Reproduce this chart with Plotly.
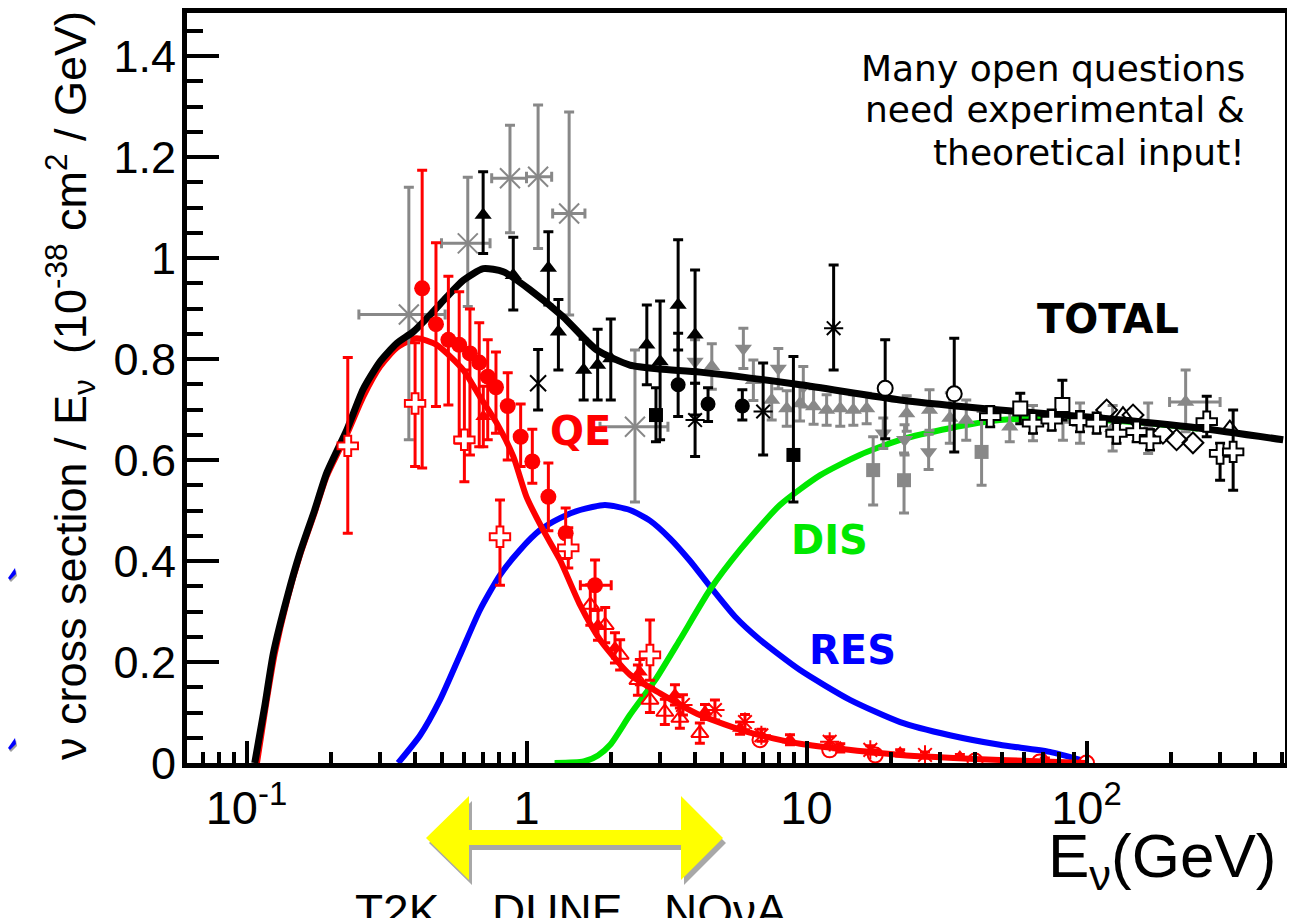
import plotly.graph_objects as go

# ---------------- curves ----------------
tot_x = [0.107, 0.116, 0.1247, 0.14, 0.155, 0.175, 0.1934, 0.228, 0.261, 0.30, 0.344, 0.394, 0.452, 0.519,
         0.595, 0.701, 0.826, 1.03, 1.35, 1.78, 2.34, 3.0, 4.17, 9.5, 21.6, 49, 112, 254, 504]
tot_y = [0.0, 0.11, 0.217, 0.33, 0.415, 0.50, 0.574, 0.659, 0.74, 0.795, 0.831, 0.854, 0.887, 0.923,
         0.956, 0.979, 0.973, 0.937, 0.884, 0.818, 0.788, 0.780, 0.774, 0.749, 0.719, 0.699, 0.683, 0.663, 0.640]

qe_x = [0.109, 0.117, 0.126, 0.14, 0.155, 0.175, 0.1934, 0.228, 0.261, 0.30, 0.344, 0.405, 0.478, 0.595,
        0.682, 0.783, 0.897, 1.0, 1.15, 1.317, 1.553, 1.83, 2.34, 3.0, 4.16, 6.28, 9.48, 21.6, 49, 100]
qe_y = [0.0, 0.11, 0.215, 0.325, 0.41, 0.495, 0.568, 0.65, 0.725, 0.785, 0.822, 0.841, 0.828, 0.778,
        0.725, 0.673, 0.607, 0.527, 0.46, 0.402, 0.313, 0.244, 0.175, 0.138, 0.095, 0.06, 0.038, 0.016, 0.006, 0.0]

res_x = [0.348, 0.417, 0.491, 0.579, 0.682, 0.804, 0.948, 1.117, 1.317, 1.553, 1.906, 2.34, 2.76, 3.25,
         3.84, 4.52, 5.55, 6.82, 9.48, 14.3, 21.6, 32.5, 49, 74, 95]
res_y = [0.0, 0.055, 0.125, 0.214, 0.303, 0.372, 0.422, 0.461, 0.485, 0.501, 0.511, 0.501, 0.48, 0.445,
         0.40, 0.35, 0.29, 0.244, 0.184, 0.125, 0.081, 0.055, 0.036, 0.022, 0.006]

dis_x = [1.26, 1.6, 1.8, 1.99, 2.34, 2.88, 3.53, 4.52, 5.79, 8.04, 11.2, 15.5, 21.6, 32.5, 49, 80, 150, 250]
dis_y = [0.0, 0.003, 0.015, 0.036, 0.095, 0.164, 0.244, 0.343, 0.422, 0.511, 0.570, 0.610, 0.640, 0.663,
         0.679, 0.683, 0.675, 0.662]

# ---------------- QE data (red) ----------------
qec_x = [0.424, 0.475, 0.526, 0.575, 0.628, 0.678, 0.727, 0.778, 0.857, 0.953, 1.049, 1.197, 1.38, 1.757]
qec_y = [0.940, 0.869, 0.838, 0.828, 0.811, 0.793, 0.765, 0.744, 0.707, 0.646, 0.597, 0.527, 0.455, 0.352]
qec_up = [0.234, 0.161, 0.126, 0.105, 0.088, 0.079, 0.073, 0.070, 0.066, 0.065, 0.064, 0.067, 0.05, 0.05]
qec_dn = [0.356, 0.163, 0.129, 0.195, 0.201, 0.167, 0.125, 0.091, 0.107, 0.059, 0.043, 0.067, 0.05, 0.05]
qec_xp = [0, 0, 0, 0, 0, 0, 0, 0, 0, 0, 0, 0, 0, 0.25]
qec_xm = [0, 0, 0, 0, 0, 0, 0, 0, 0, 0, 0, 0, 0, 0.2]

qeo_x = [0.230, 0.40, 0.60, 0.804, 1.41, 2.76]
qeo_y = [0.628, 0.712, 0.640, 0.448, 0.426, 0.214]
qeo_up = [0.175, 0.12, 0.138, 0.073, 0.04, 0.069]
qeo_dn = [0.173, 0.125, 0.083, 0.096, 0.04, 0.05]

qet_x = [0.701, 1.80, 2.07, 2.54, 3.39, 4.34, 5.79, 8.73, 13.2, 21.6, 35.3, 71]
qet_y = [0.686, 0.273, 0.228, 0.180, 0.135, 0.101, 0.069, 0.046, 0.030, 0.020, 0.012, 0.006]
qet_e = [0.06, 0.03, 0.03, 0.025, 0.02, 0.015, 0.012, 0.01, 0.008, 0.006, 0.005, 0.004]

qeot_x = [1.69, 1.91, 2.16, 2.5, 2.76, 3.12, 3.53, 4.16]
qeot_y = [0.313, 0.273, 0.214, 0.164, 0.125, 0.101, 0.089, 0.059]
qeot_e = [0.04, 0.035, 0.03, 0.03, 0.025, 0.025, 0.02, 0.02]

qes_x = [3.62, 4.71, 6.03, 6.9, 12.1, 16.9, 26.5]
qes_y = [0.115, 0.105, 0.081, 0.055, 0.042, 0.026, 0.016]
qes_e = [0.02, 0.02, 0.015, 0.012, 0.01, 0.008, 0.006]

qeoc_x = [6.82, 12.1, 17.6, 40, 68, 100]
qeoc_y = [0.046, 0.026, 0.016, 0.004, 0.002, 0.0]

# ---------------- TOTAL data ----------------
bt_x = [0.70, 0.897, 1.197, 1.30, 1.60, 1.795, 2.0, 2.69, 3.0, 3.48, 4.0]
bt_y = [1.085, 0.966, 0.98, 0.854, 0.778, 0.788, 0.801, 0.828, 0.795, 0.907, 0.848]
bt_up = [0.086, 0.075, 0.072, 0.064, 0.061, 0.071, 0.078, 0.079, 0.12, 0.129, 0.128]
bt_dn = [0.076, 0.069, 0.073, 0.076, 0.059, 0.069, 0.082, 0.079, 0.155, 0.089, 0.159]

bx_x = [1.10]
bx_y = [0.752]
bx_up = [0.067]
bx_dn = [0.053]

bs_x = [4.0, 7.0, 12.5]
bs_y = [0.679, 0.696, 0.861]
bs_up = [0.073, 0.096, 0.125]
bs_dn = [0.072, 0.086, 0.083]

bc_x = [3.48, 4.45, 5.9]
bc_y = [0.749, 0.711, 0.707]
bc_up = [0.102, 0.032, 0.032]
bc_dn = [0.063, 0.035, 0.028]

bq_x = [2.9, 8.98]
bq_y = [0.689, 0.610]
bq_up = [0.054, 0.195]
bq_dn = [0.053, 0.093]

boc_x = [19.1, 33.7]
boc_y = [0.742, 0.731]
boc_up = [0.096, 0.11]
boc_dn = [0.10, 0.115]

boq_x = [58, 82]
boq_y = [0.702, 0.709]
boq_up = [0.03, 0.049]
boq_dn = [0.03, 0.03]

bcr_x = [45.3, 64.4, 75.1, 94.8, 108.7, 128, 151, 168.6, 268.8, 300, 334]
bcr_y = [0.686, 0.673, 0.679, 0.676, 0.673, 0.653, 0.656, 0.640, 0.676, 0.613, 0.616]
bcr_up = [0.02, 0.02, 0.02, 0.02, 0.02, 0.02, 0.02, 0.02, 0.05, 0.02, 0.083]
bcr_dn = [0.02, 0.02, 0.02, 0.02, 0.02, 0.02, 0.02, 0.02, 0.03, 0.053, 0.076]

bd_x = [118, 146.6, 187.5, 209.7, 240]
bd_y = [0.699, 0.689, 0.653, 0.640, 0.634]

bot_x = [135, 325]
bot_y = [0.69, 0.663]

gx_x = [0.380, 0.617, 0.873, 1.10, 1.42, 2.44]
gx_y = [0.888, 1.029, 1.158, 1.161, 1.088, 0.666]
gx_xlo = [0.252, 0.497, 0.751, 1.0, 1.24, 1.83]
gx_xhi = [0.512, 0.741, 1.0, 1.23, 1.617, 3.2]
gx_ylo = [0.640, 0.904, 1.05, 1.019, 0.887, 0.517]
gx_yhi = [1.140, 1.16, 1.263, 1.303, 1.289, 0.818]

gt_x = [4.59, 6.46, 7.51, 8.5, 9.48, 10.6, 11.8, 13.2, 14.7, 16.4, 22.8, 27.5, 32.5, 37.2, 53.2, 64.4,
        82.4, 94.8, 124, 166]
gt_y = [0.785, 0.758, 0.719, 0.702, 0.712, 0.706, 0.699, 0.702, 0.699, 0.702, 0.692, 0.699, 0.683, 0.679,
        0.666, 0.673, 0.679, 0.673, 0.663, 0.663]
gt_e = [0.045, 0.04, 0.04, 0.035, 0.035, 0.035, 0.03, 0.035, 0.03, 0.03, 0.035, 0.04, 0.05, 0.04, 0.03,
        0.035, 0.04, 0.04, 0.045, 0.05]

gtb_x = [226]
gtb_y = [0.715]
gtb_xlo = [198]
gtb_xhi = [300]
gtb_ylo = [0.656]
gtb_yhi = [0.778]

gd_x = [4.0, 5.95, 7.93, 9.74, 18.8, 22.4, 27.3]
gd_y = [0.795, 0.821, 0.781, 0.745, 0.653, 0.640, 0.616]
gd_e = [0.043, 0.04, 0.04, 0.04, 0.03, 0.03, 0.035]

gq_x = [17.3, 22.3, 42.2]
gq_y = [0.58, 0.56, 0.616]
gq_up = [0.066, 0.054, 0.08]
gq_dn = [0.069, 0.065, 0.066]

# tick labels
x_tickvals = [0.1, 1, 10, 100]
x_ticktext = ["10<sup>-1</sup>", "1", "10", "10<sup>2</sup>"]
y_tickvals = [0, 0.2, 0.4, 0.6, 0.8, 1.0, 1.2, 1.4]
y_ticktext = ["0", "0.2", "0.4", "0.6", "0.8", "1", "1.2", "1.4"]

# ---------------- figure ----------------
# the page body has an 8px margin: the figure starts at page (8, 8)
OFF = 8
W, H = 1295 - OFF, 918 - OFF
PL, PR, PT, PB = 187, 1285, 13, 763          # plot area in page pixels
ML, MR, MT, MB = PL - OFF, (OFF + W) - PR, PT - OFF, (OFF + H) - PB
PW, PH = PR - PL, PB - PT


def px(x):
    return (x - PL) / PW


def py(y):
    return (PB - y) / PH


fig = go.Figure()

RED, BLUE, GREEN, GRAY = "#ff0000", "#0000ff", "#00e800", "#888888"


def curve(x, y, color, width):
    fig.add_trace(go.Scatter(x=x, y=y, mode="lines", line=dict(color=color, width=width, shape="spline", smoothing=0.6),
                             hoverinfo="skip", showlegend=False))


def pts(x, y, symbol, color, size, ecolor, up=None, dn=None, lcolor=None, lw=0, xp=None, xm=None):
    ey = None
    if up is not None:
        ey = dict(type="data", symmetric=False, array=up, arrayminus=dn if dn is not None else up,
                  color=ecolor, thickness=3, width=5)
    ex = None
    if xp is not None:
        ex = dict(type="data", symmetric=False, array=xp, arrayminus=xm, color=ecolor, thickness=3, width=5)
    fig.add_trace(go.Scatter(x=x, y=y, mode="markers", error_y=ey, error_x=ex,
                             marker=dict(symbol=symbol, color=color, size=size,
                                         line=dict(color=lcolor or color, width=lw)),
                             hoverinfo="skip", showlegend=False))


curve(res_x, res_y, BLUE, 6)
curve(dis_x, dis_y, GREEN, 6)
curve(qe_x, qe_y, RED, 6)

# gray data
pts(gx_x, gx_y, "x-thin-open", GRAY, 20, GRAY,
    up=[a - b for a, b in zip(gx_yhi, gx_y)], dn=[b - a for a, b in zip(gx_ylo, gx_y)],
    lcolor=GRAY, lw=2,
    xp=[a - b for a, b in zip(gx_xhi, gx_x)], xm=[b - a for a, b in zip(gx_xlo, gx_x)])
pts(gt_x, gt_y, "triangle-up", GRAY, 15, GRAY, up=gt_e, dn=gt_e)
pts(gtb_x, gtb_y, "triangle-up", GRAY, 15, GRAY,
    up=[a - b for a, b in zip(gtb_yhi, gtb_y)], dn=[b - a for a, b in zip(gtb_ylo, gtb_y)],
    xp=[a - b for a, b in zip(gtb_xhi, gtb_x)], xm=[b - a for a, b in zip(gtb_xlo, gtb_x)])
pts(gd_x, gd_y, "triangle-down", GRAY, 15, GRAY, up=gd_e, dn=gd_e)
pts(gq_x, gq_y, "square", GRAY, 14, GRAY, up=gq_up, dn=gq_dn)

curve(tot_x, tot_y, "black", 7)

# black data
pts(bt_x, bt_y, "triangle-up", "black", 15, "black", up=bt_up, dn=bt_dn)
pts(bx_x, bx_y, "x-thin-open", "black", 16, "black", up=bx_up, dn=bx_dn, lcolor="black", lw=2)
pts(bs_x, bs_y, "asterisk-open", "black", 16, "black", up=bs_up, dn=bs_dn, lcolor="black", lw=2)
pts(bc_x, bc_y, "circle", "black", 15, "black", up=bc_up, dn=bc_dn)
pts(bq_x, bq_y, "square", "black", 14, "black", up=bq_up, dn=bq_dn)
pts(boc_x, boc_y, "circle", "white", 15, "black", up=boc_up, dn=boc_dn, lcolor="black", lw=2)
pts(boq_x, boq_y, "square", "white", 14, "black", up=boq_up, dn=boq_dn, lcolor="black", lw=2)
pts(bd_x, bd_y, "diamond-open", "black", 16, "black", lcolor="black", lw=2)
pts(bot_x, bot_y, "triangle-up-open", "black", 15, "black", lcolor="black", lw=2)
pts(bcr_x, bcr_y, "cross", "white", 17, "black", up=bcr_up, dn=bcr_dn, lcolor="black", lw=2)

# red data
pts(qeot_x, qeot_y, "triangle-up-open", RED, 15, RED, up=qeot_e, dn=qeot_e, lcolor=RED, lw=2)
pts(qet_x, qet_y, "triangle-up", RED, 14, RED, up=qet_e, dn=qet_e)
pts(qes_x, qes_y, "asterisk-open", RED, 16, RED, up=qes_e, dn=qes_e, lcolor=RED, lw=2)
pts(qeoc_x, qeoc_y, "circle-open", RED, 15, RED, lcolor=RED, lw=2)
pts(qec_x, qec_y, "circle", RED, 16, RED, up=qec_up, dn=qec_dn, xp=qec_xp, xm=qec_xm)
pts(qeo_x, qeo_y, "cross", "white", 17, RED, up=qeo_up, dn=qeo_dn, lcolor=RED, lw=2)

# ---------------- annotations ----------------
ann = []


def text(t, x, y, size, color="black", family="DejaVu Sans", xanchor="center", yanchor="middle", angle=0):
    ann.append(dict(text=t, x=px(x), y=py(y), xref="paper", yref="paper", showarrow=False,
                    font=dict(size=size, color=color, family=family), xanchor=xanchor, yanchor=yanchor,
                    textangle=angle))


BOLD = "DejaVu Sans"
text("<b>QE</b>", 580, 431, 40, RED, BOLD)
text("<b>DIS</b>", 830, 540, 40, GREEN, BOLD)
text("<b>RES</b>", 852, 650, 40, BLUE, BOLD)
text("<b>TOTAL</b>", 1108, 319, 40, "black", BOLD)
text("Many open questions", 1247, 68, 36, xanchor="right")
text("need experimental &amp;", 1247, 110, 36, xanchor="right")
text("theoretical input!", 1247, 153, 36, xanchor="right")

SANS = "Liberation Sans, Arial, sans-serif"
text("ν cross section / E<sub>ν</sub>  (10<sup>-38</sup> cm<sup>2</sup> / GeV)", 70, 386, 45, "black", SANS, angle=-90)
text("E<sub>ν</sub>(GeV)", 1278, 860, 62, "black", SANS, xanchor="right")
text("T2K", 397, 883, 46, "black", SANS, yanchor="top")
text("DUNE", 557, 883, 46, "black", SANS, yanchor="top")
text("NOνA", 725, 883, 46, "black", SANS, yanchor="top")

# ---------------- shapes: arrow ----------------


def poly(points, dx=0, dy=0):
    s = "M " + " L ".join(f"{px(a + dx):.5f},{py(b + dy):.5f}" for a, b in points) + " Z"
    return s


arrow = [(426, 838), (469, 796), (469, 830), (681, 830), (681, 796), (723, 838),
         (681, 880), (681, 845), (469, 845), (469, 880)]
shapes = [
    dict(type="path", path=poly(arrow, 3, 5), xref="paper", yref="paper", fillcolor="#a8a8a8",
         line=dict(width=0), layer="above"),
    dict(type="path", path=poly(arrow), xref="paper", yref="paper", fillcolor="#ffff00",
         line=dict(width=0), layer="above"),
]
# blue fragments at the left edge
for (a, b) in [(8, 578), (8, 748)]:
    frag = [(a, b), (a + 7, b - 10), (a + 8, b - 4), (a + 2, b + 2)]
    shapes.append(dict(type="path", path=poly(frag, 1, 2), xref="paper", yref="paper",
                       fillcolor="#a0a0a0", line=dict(width=0)))
    shapes.append(dict(type="path", path=poly(frag), xref="paper", yref="paper",
                       fillcolor="#0000ff", line=dict(width=0)))

# axis ranges from the page mapping: 0.1 GeV at x=246.5, 280 px per decade; y=0 at 763, 505 px per unit
x_range = [-1 - (246.5 - PL) / 280, -1 + (PR - 246.5) / 280]
y_range = [0, (PB - PT) / 505]

# minor ticks for the log axis
x_minor = [m * 10 ** k for k in range(-2, 3) for m in range(2, 10)]

fig.update_layout(
    width=W, height=H,
    margin=dict(l=ML, r=MR, t=MT, b=MB, autoexpand=False),
    paper_bgcolor="white", plot_bgcolor="white",
    showlegend=False,
    annotations=ann,
    shapes=shapes,
    font=dict(family=SANS, color="black"),
    xaxis=dict(type="log", range=x_range, showgrid=False, zeroline=False, automargin=False,
               showline=True, linewidth=5, linecolor="black", mirror=True,
               ticks="inside", ticklen=22, tickwidth=4, tickcolor="black",
               tickmode="array", tickvals=x_tickvals, ticktext=x_ticktext,
               tickfont=dict(size=47, family=SANS, color="black"), ticklabelstandoff=0,
               minor=dict(ticks="inside", ticklen=11, tickwidth=4, tickcolor="black",
                          tickmode="array", tickvals=x_minor, showgrid=False)),
    yaxis=dict(range=y_range, showgrid=False, zeroline=False, automargin=False,
               showline=True, linewidth=5, linecolor="black", mirror=True,
               ticks="inside", ticklen=32, tickwidth=4, tickcolor="black",
               tickmode="array", tickvals=y_tickvals, ticktext=y_ticktext,
               tickfont=dict(size=45, family=SANS, color="black"), ticklabelstandoff=-3,
               minor=dict(ticks="inside", ticklen=16, tickwidth=4, tickcolor="black", dtick=0.05,
                          showgrid=False)),
)

fig.write_html("out.html")
